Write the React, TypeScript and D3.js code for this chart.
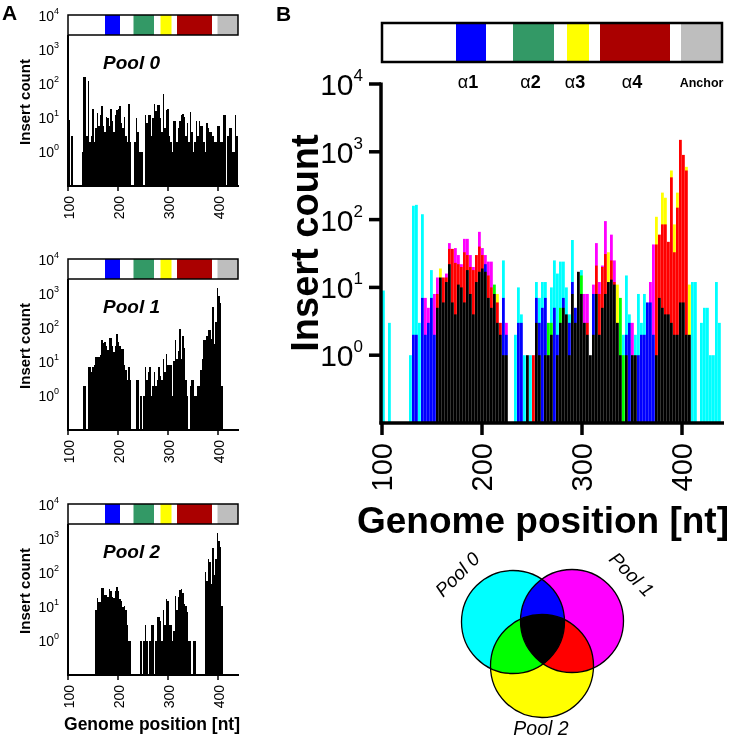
import React from "react";
import * as d3 from "d3";

// ---- Data: [genome position (nt, bin start), insert count] ----
const pool0: [number, number][] = [
  [100, 9], [106, 3], [127, 1], [130, 160], [133, 165], [136, 3], [139, 120], [142, 2], [145, 3], [148, 18],
  [151, 2], [154, 5], [157, 14], [160, 6], [163, 12], [166, 22], [169, 6], [172, 4], [175, 11], [178, 10],
  [181, 6], [184, 18], [187, 8], [190, 4], [193, 12], [196, 17], [199, 19], [202, 22], [205, 7], [208, 5],
  [211, 11], [214, 3], [217, 2], [220, 25], [223, 2], [232, 2], [235, 10], [238, 4], [241, 1], [244, 1],
  [247, 1], [253, 12], [256, 7], [259, 12], [262, 12], [265, 3], [268, 10], [271, 25], [274, 16], [277, 24],
  [280, 24], [283, 10], [286, 4], [289, 50], [292, 5], [295, 17], [298, 18], [301, 3], [304, 2], [307, 1],
  [310, 8], [313, 8], [316, 2], [319, 5], [322, 8], [325, 12], [328, 13], [331, 11], [334, 3], [337, 7],
  [340, 2], [343, 15], [346, 4], [349, 1], [352, 2], [355, 8], [358, 3], [361, 8], [364, 6], [367, 6],
  [370, 2], [373, 1], [376, 7], [379, 5], [382, 4], [385, 4], [388, 3], [391, 2], [394, 2], [397, 6],
  [400, 6], [403, 2], [406, 2], [409, 12], [412, 12], [418, 3], [421, 5], [424, 5], [427, 1], [430, 1],
  [433, 12], [436, 3],
];

const pool1: [number, number][] = [
  [130, 2], [133, 2], [139, 7], [142, 7], [145, 5], [148, 7], [151, 8], [154, 14], [157, 14], [160, 14],
  [163, 16], [166, 45], [169, 37], [172, 38], [175, 30], [178, 22], [181, 52], [184, 52], [187, 30], [190, 20],
  [193, 30], [196, 66], [199, 38], [202, 30], [205, 24], [208, 24], [211, 8], [214, 6], [217, 3], [220, 7],
  [223, 3], [235, 3], [238, 3], [244, 1], [250, 1], [253, 7], [256, 3], [259, 5], [262, 7], [265, 1],
  [268, 2], [271, 5], [274, 2], [277, 3], [280, 7], [283, 4], [286, 3], [289, 12], [292, 5], [295, 17],
  [298, 8], [301, 8], [304, 8], [307, 1], [310, 11], [313, 45], [316, 12], [319, 21], [322, 95], [325, 12],
  [328, 60], [331, 25], [334, 3], [337, 1], [343, 2], [346, 3], [349, 3], [352, 1], [355, 1], [358, 2],
  [361, 2], [364, 6], [367, 12], [370, 43], [373, 43], [376, 60], [379, 85], [382, 85], [385, 47], [388, 420],
  [391, 33], [394, 150], [397, 1500], [400, 900], [403, 530], [406, 2],
];

const pool2: [number, number][] = [
  [154, 8], [157, 19], [160, 14], [163, 14], [166, 37], [169, 37], [172, 23], [175, 22], [178, 20], [181, 33],
  [184, 30], [187, 20], [190, 18], [193, 30], [196, 40], [199, 30], [202, 17], [205, 15], [208, 10], [211, 11],
  [214, 8], [217, 3], [220, 1], [223, 1], [244, 1], [250, 1], [253, 3], [256, 1], [262, 1], [265, 3],
  [268, 3], [274, 1], [277, 5], [280, 5], [283, 4], [286, 1], [289, 8], [292, 3], [295, 17], [298, 15],
  [301, 3], [304, 3], [307, 1], [310, 2], [313, 21], [316, 8], [319, 20], [322, 31], [325, 33], [328, 25],
  [331, 12], [334, 11], [337, 7], [340, 1], [343, 1], [349, 1], [352, 1], [373, 110], [376, 60], [379, 250],
  [382, 210], [385, 47], [388, 530], [391, 85], [394, 250], [397, 1500], [400, 900], [403, 600], [406, 11],
];

const poolNames = ["Pool 0", "Pool 1", "Pool 2"];
const poolColors = ["#00ffff", "#ff00ff", "#ffff00"];
const binWidth = 3;

// genome map segments (nt)
const segStart = [174, 231, 285, 318, 399];
const segEnd = [204, 272, 307, 388, 440];
const segColors = ["#0000ff", "#339966", "#ffff00", "#aa0000", "#bebebe"];
const segLabels = ["1", "2", "3", "4", "Anchor"];

const xTicks = [100, 200, 300, 400];
const yDecades = [0, 1, 2, 3, 4];

const FONT = "'Liberation Sans', Arial, Helvetica, sans-serif";

function PanelA({ data, idx, offset }: { data: [number, number][]; idx: number; offset: number }) {
  const x = d3.scaleLinear().domain([100, 440]).range([68, 238]);
  const y = d3.scaleLog().domain([0.1, 1e4]).range([186 + offset, 16 + offset]);
  const base = y(0.1);
  return (
    <g>
      <g shapeRendering="crispEdges">
        {data.map(([p, v], i) => (
          <rect key={i} x={x(p)} width={x(p + binWidth) - x(p)} y={y(v)} height={base - y(v)} fill="#000" />
        ))}
      </g>
      {/* genome map */}
      <rect x={x(100)} y={15 + offset} width={x(440) - x(100)} height={20} fill="#fff" />
      {segStart.map((s, i) => (
        <rect key={i} x={x(s)} y={15 + offset} width={x(segEnd[i]) - x(s)} height={20} fill={segColors[i]} />
      ))}
      <rect x={x(100)} y={15 + offset} width={x(440) - x(100)} height={20} fill="none" stroke="#000" strokeWidth={1.5} />
      {/* axes */}
      <line x1={68} x2={68} y1={35 + offset} y2={base + 1} stroke="#000" strokeWidth={2} />
      <line x1={67} x2={239} y1={base} y2={base} stroke="#000" strokeWidth={2} />
      {xTicks.map((t) => (
        <g key={t}>
          <line x1={x(t)} x2={x(t)} y1={base} y2={base + 5} stroke="#000" strokeWidth={1.5} />
          <text
            transform={`translate(${x(t) + 1},${base + 10}) rotate(-90)`}
            textAnchor="end"
            dy="0.36em"
            fontSize={14}
            fontFamily={FONT}
          >
            {t}
          </text>
        </g>
      ))}
      {yDecades.map((d) => (
        <text key={d} x={59} y={y(Math.pow(10, d)) + 5} textAnchor="end" fontSize={14} fontFamily={FONT}>
          <tspan>10</tspan>
          <tspan fontSize={9} dy={-7}>{d}</tspan>
        </text>
      ))}
      <text
        transform={`translate(30,${102 + offset}) rotate(-90)`}
        textAnchor="middle"
        fontSize={15}
        fontWeight="bold"
        fontFamily={FONT}
      >
        Insert count
      </text>
      <text x={103} y={69 + offset} fontSize={19} fontWeight="bold" fontStyle="italic" fontFamily={FONT}>
        {poolNames[idx]}
      </text>
    </g>
  );
}

function PanelB() {
  const x = d3.scaleLinear().domain([100, 440]).range([382, 722]);
  const y = d3.scaleLog().domain([0.1, 1e4]).range([423, 84]);
  const base = y(0.1);
  const pools = [pool0, pool1, pool2];
  return (
    <g>
      <g style={{ isolation: "isolate" }}>
        {pools.map((data, k) => (
          <g key={k} style={{ mixBlendMode: "multiply" }}>
            {data.map(([p, v], i) => (
              <rect key={i} x={x(p)} width={x(p + binWidth) - x(p) - 0.2} y={y(v)} height={base - y(v)} fill={poolColors[k]} />
            ))}
          </g>
        ))}
      </g>
      {/* genome map */}
      <rect x={x(100)} y={23} width={x(440) - x(100)} height={39} fill="#fff" />
      {segStart.map((s, i) => (
        <rect key={i} x={x(s)} y={23} width={x(segEnd[i]) - x(s)} height={39} fill={segColors[i]} />
      ))}
      <rect x={x(100)} y={23} width={x(440) - x(100)} height={39} fill="none" stroke="#000" strokeWidth={2.5} />
      {segStart.map((s, i) =>
        i < 4 ? (
          <text key={i} x={x((s + segEnd[i]) / 2) - 3} y={88} textAnchor="middle" fontSize={18} fontFamily={FONT}>
            <tspan>α</tspan>
            <tspan fontWeight="bold">{segLabels[i]}</tspan>
          </text>
        ) : (
          <text key={i} x={x((s + segEnd[i]) / 2)} y={87} textAnchor="middle" fontSize={12.5} fontWeight="bold" fontFamily={FONT}>
            {segLabels[i]}
          </text>
        )
      )}
      {/* axes */}
      <line x1={381} x2={381} y1={y(1e4) - 1.5} y2={base + 1.5} stroke="#000" strokeWidth={3.5} />
      <line x1={379.5} x2={724} y1={base} y2={base} stroke="#000" strokeWidth={3.5} />
      {yDecades.map((d) => (
        <g key={d}>
          <line x1={369} x2={381} y1={y(Math.pow(10, d))} y2={y(Math.pow(10, d))} stroke="#000" strokeWidth={3.5} />
          <text x={363} y={y(Math.pow(10, d)) + 11} textAnchor="end" fontSize={30} fontFamily={FONT}>
            <tspan>10</tspan>
            <tspan fontSize={17} dy={-14}>{d}</tspan>
          </text>
        </g>
      ))}
      {xTicks.map((t) => (
        <g key={t}>
          <line x1={x(t)} x2={x(t)} y1={base} y2={base + 12} stroke="#000" strokeWidth={3.5} />
          <text
            transform={`translate(${x(t)},${base + 20}) rotate(-90)`}
            textAnchor="end"
            dy="0.36em"
            fontSize={29}
            fontFamily={FONT}
          >
            {t}
          </text>
        </g>
      ))}
      <text
        transform={`translate(318,243) rotate(-90)`}
        textAnchor="middle"
        fontSize={38}
        fontWeight="bold"
        fontFamily={FONT}
      >
        Insert count
      </text>
      <text x={543} y={533} textAnchor="middle" fontSize={37} fontWeight="bold" fontFamily={FONT}>
        Genome position [nt]
      </text>
    </g>
  );
}

function Venn() {
  const cx = [513, 572, 542];
  const cy = [622, 621, 666];
  const r = 51.5;
  return (
    <g>
      <g style={{ isolation: "isolate" }}>
        {cx.map((c, i) => (
          <circle key={i} cx={c} cy={cy[i]} r={r} fill={poolColors[i]} style={{ mixBlendMode: "multiply" }} />
        ))}
      </g>
      {cx.map((c, i) => (
        <circle key={i} cx={c} cy={cy[i]} r={r} fill="none" stroke="#000" strokeWidth={1.3} />
      ))}
      <text transform="translate(462,579) rotate(-45)" textAnchor="middle" fontSize={19} fontStyle="italic" fontFamily={FONT}>
        {poolNames[0]}
      </text>
      <text transform="translate(627,579) rotate(45)" textAnchor="middle" fontSize={19} fontStyle="italic" fontFamily={FONT}>
        {poolNames[1]}
      </text>
      <text x={541} y={735} textAnchor="middle" fontSize={19.5} fontStyle="italic" fontFamily={FONT}>
        {poolNames[2]}
      </text>
    </g>
  );
}

export default function App() {
  const pools = [pool0, pool1, pool2];
  const offsets = [0, 244, 489];
  return (
    <svg width={733} height={740} style={{ position: "absolute", left: 0, top: 0, background: "#fff" }}>
      <rect width={733} height={740} fill="#fff" />
      <text x={2} y={20} fontSize={21} fontWeight="bold" fontFamily={FONT}>A</text>
      <text x={276} y={21} fontSize={21} fontWeight="bold" fontFamily={FONT}>B</text>
      {pools.map((d, i) => (
        <PanelA key={i} data={d} idx={i} offset={offsets[i]} />
      ))}
      <text x={152} y={730} textAnchor="middle" fontSize={17.5} fontWeight="bold" fontFamily={FONT}>
        Genome position [nt]
      </text>
      <PanelB />
      <Venn />
    </svg>
  );
}
